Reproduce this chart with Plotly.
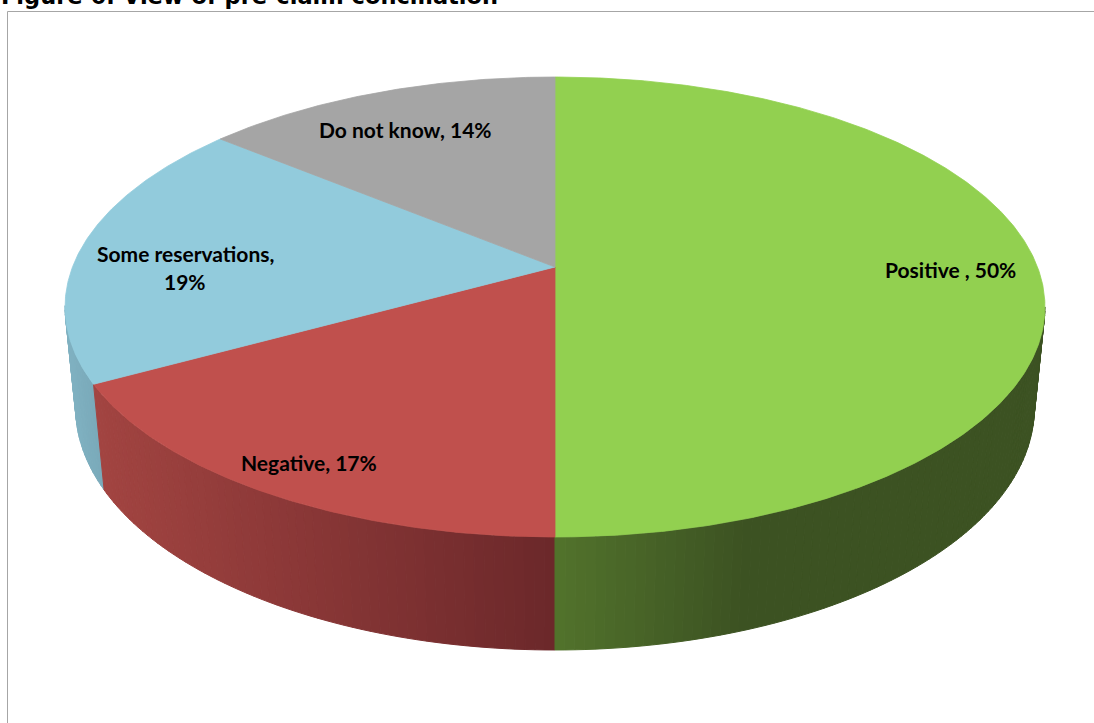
import numpy as np
import plotly.graph_objects as go

# ---- data -------------------------------------------------------------
categories = ["Positive ", "Negative", "Some reservations", "Do not know"]
shares = [50, 17, 19, 14]          # percent, clockwise from 12 o'clock
title_text = "Figure 6: View of pre-claim conciliation"

# ---- styling ----------------------------------------------------------
top_colors = {
    "Positive ": "#92d050",
    "Negative": "#c0504d",
    "Some reservations": "#92cbdc",
    "Do not know": "#a5a5a5",
}
# side wall gradient (light end, dark end, fraction of the wall used by the ramp)
side_colors = {
    "Positive ": ((81, 114, 43), (60, 82, 34), 0.38),
    "Negative": ((162, 68, 65), (108, 40, 42), 1.0),
    "Some reservations": ((128, 178, 194), (122, 170, 186), 1.0),
    "Do not know": ((150, 150, 150), (120, 120, 120), 1.0),
}
# label placement: radial position on the top face plus a small vertical nudge (px)
label_radius = {"Positive ": 0.82, "Negative": 0.87, "Some reservations": 0.78, "Do not know": 0.82}
label_nudge = {"Positive ": 2, "Negative": 3, "Some reservations": 17, "Do not know": 9}

W, H = 1094, 723

# perspective view of a unit-radius disc
CX, CY = 555.0, 267.0        # screen position of the pie centre
SCALE = 482.5                # pixels per radius
SIN_P, COS_P = 0.4622, 0.8868  # camera pitch
CAM_DIST = 5.10              # camera distance, in radii
THICK = 0.2375               # disc thickness, in radii


def project(theta, r=1.0, depth=0.0):
    """theta measured clockwise from the far side (12 o'clock)."""
    u = r * np.sin(theta)
    v = r * np.cos(theta)
    w = 1.0 + (depth * SIN_P + v * COS_P) / CAM_DIST
    x = CX + SCALE * u / w
    y = CY + SCALE * (depth * COS_P - v * SIN_P) / w
    return x, y


fig = go.Figure()

total = float(sum(shares))
bounds = np.concatenate([[0.0], np.cumsum(shares) / total * 2 * np.pi])
slices = [(cat, bounds[i], bounds[i + 1]) for i, cat in enumerate(categories)]

# ---- side walls (front-facing part only), far strips first -------------
visible_cos = -1.0 / (CAM_DIST * COS_P)
strips = []
for cat, a, b in slices:
    n = max(2, int(np.degrees(b - a)))
    th = np.linspace(a, b, n + 1)
    vis = [(t0, t1) for t0, t1 in zip(th[:-1], th[1:])
           if np.cos(0.5 * (t0 + t1)) < visible_cos + 0.05]
    if not vis:
        continue
    xs = [project(0.5 * (t0 + t1))[0] for t0, t1 in vis]
    xl, xr = min(xs), max(xs)
    light, dark, ramp = side_colors[cat]
    for (t0, t1), xm in zip(vis, xs):
        t = 0.0 if xr == xl else (xm - xl) / (xr - xl)
        t = min(1.0, t / ramp)
        col = "rgb({},{},{})".format(*[int(round(l + (d - l) * t)) for l, d in zip(light, dark)])
        strips.append((np.cos(0.5 * (t0 + t1)), t0, t1, col))

strips.sort(key=lambda s: -s[0])
for _, t0, t1, col in strips:
    x0, y0 = project(t0)
    x1, y1 = project(t1)
    x2, y2 = project(t1, depth=THICK)
    x3, y3 = project(t0, depth=THICK)
    fig.add_trace(go.Scatter(
        x=[x0, x1, x2, x3, x0], y=[y0, y1, y2, y3, y0],
        mode="lines", fill="toself", fillcolor=col,
        line=dict(color=col, width=1), hoverinfo="skip", showlegend=False))

# ---- top faces --------------------------------------------------------
for cat, a, b in slices:
    th = np.linspace(a, b, max(3, int(np.degrees(b - a)) * 2))
    ax, ay = project(th)
    xs = np.concatenate([[CX], ax, [CX]])
    ys = np.concatenate([[CY], ay, [CY]])
    fig.add_trace(go.Scatter(
        x=xs, y=ys, mode="lines", fill="toself",
        fillcolor=top_colors[cat], line=dict(color=top_colors[cat], width=0.8),
        hoverinfo="skip", showlegend=False))

# ---- data labels ------------------------------------------------------
label_font = dict(family="Lato", size=21, color="#000000", weight="bold")
for (cat, a, b), val in zip(slices, shares):
    lx, ly = project(0.5 * (a + b), r=label_radius[cat])
    ly += label_nudge[cat]
    text = f"{cat}, {val}%"
    if len(text) > 18:
        first, second = f"{cat},", f"{val}%"
        for txt, dy in ((first, -14), (second, 14)):
            fig.add_annotation(x=lx, y=ly + dy, text=txt, showarrow=False,
                               font=label_font, xanchor="center", yanchor="middle")
    else:
        fig.add_annotation(x=lx, y=ly, text=text, showarrow=False,
                           font=label_font, xanchor="center", yanchor="middle")

# ---- caption and frame ------------------------------------------------
fig.add_annotation(x=0, y=11, text=title_text, showarrow=False,
                   xanchor="left", yanchor="bottom", xshift=-1,
                   font=dict(family="DejaVu Sans", size=22.5, color="#000000", weight="bold"))
fig.add_shape(type="rect", x0=7.5, y0=11.5, x1=W + 50, y1=H + 50,
              line=dict(color="#a6a6a6", width=1), fillcolor="rgba(0,0,0,0)", layer="below")

fig.update_layout(
    width=W, height=H,
    margin=dict(l=0, r=0, t=0, b=0),
    paper_bgcolor="white", plot_bgcolor="white",
    xaxis=dict(range=[0, W], visible=False, fixedrange=True),
    yaxis=dict(range=[H, 0], visible=False, fixedrange=True),
    showlegend=False,
)

fig.write_html("out.html")
